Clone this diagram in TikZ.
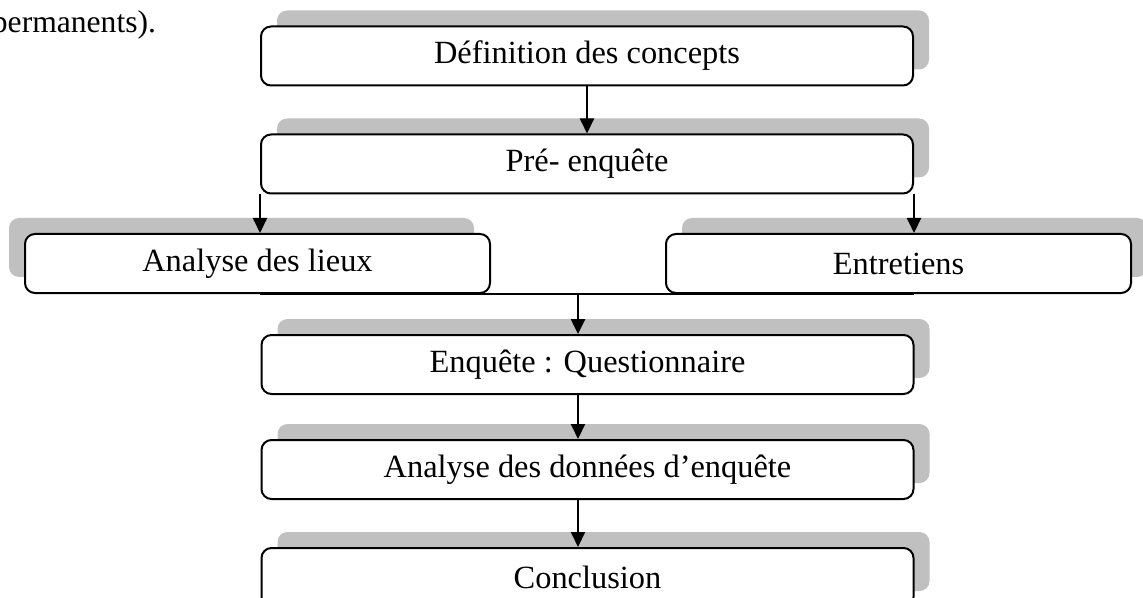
\documentclass[tikz,border=0pt]{standalone}
\usepackage{fontspec}
\setmainfont{Liberation Serif}
\usetikzlibrary{arrows.meta, positioning, shadows, calc}
\definecolor{ombre}{HTML}{C0C0C0}

\begin{document}
\begin{tikzpicture}[
    x=0.5pt, y=-0.5pt,
    line width=1pt,
    every node/.style={font=\fontsize{16.2}{19}\selectfont},
    boite/.style={
      rectangle,
      draw,
      rounded corners=5pt,
      fill=white,
      minimum height=29.5pt,
      inner sep=0pt
    },
    etape/.style={boite, minimum width=326pt,
      drop shadow={shadow xshift=8pt, shadow yshift=8pt, fill=ombre, opacity=1}},
    etapegauche/.style={boite, minimum width=232.5pt,
      drop shadow={shadow xshift=-8pt, shadow yshift=8pt, fill=ombre, opacity=1}},
    etapedroite/.style={boite, minimum width=232.5pt,
      drop shadow={shadow xshift=8pt, shadow yshift=8pt, fill=ombre, opacity=1}},
    >={Triangle[width=7pt,length=7.5pt]}
  ]
    \path[use as bounding box, clip] (0,0) rectangle (1143,598);

    % Text above the chart
    \node (texte) [anchor=base east, inner sep=0pt,
      font=\fontsize{15.8}{19}\selectfont] at (157,33) {permanents).};

    % Main column
    \node (def)  [etape] at (587,56) {Définition des concepts};
    \node (pre)  [etape, below=23.5pt of def] {Pré- enquête};

    % Two branches
    \node (lieux) [etapegauche] at (257.5,263.5) {Analyse des lieux};
    \node (entr)  [etapedroite] at (898.5,263.5) {Entretiens};

    % Main column again
    \node (enq)   [etape] at (587.5,364.5) {Enquête : Questionnaire};
    \node (donn)  [etape, below=22pt of enq] {Analyse des données d’enquête};
    \node (concl) [etape, below=23.5pt of donn] {Conclusion};

    \coordinate (milieu) at ($(lieux.south)!0.5!(entr.south)$);

    % Edges
    \draw[->] (def) -- (pre);
    \draw[->] (pre.south west) -- (pre.south west |- lieux.north);
    \draw[->] (pre.south east) -- (pre.south east |- entr.north);

    \draw (pre.south west |- lieux.south) -- (pre.south east |- entr.south);
    \draw[->, line width=1.3pt] (milieu) -- (milieu |- enq.north);

    \draw[->] (milieu |- enq.south)  -- (milieu |- donn.north);
    \draw[->] (milieu |- donn.south) -- (milieu |- concl.north);

  \end{tikzpicture}
\end{document}
